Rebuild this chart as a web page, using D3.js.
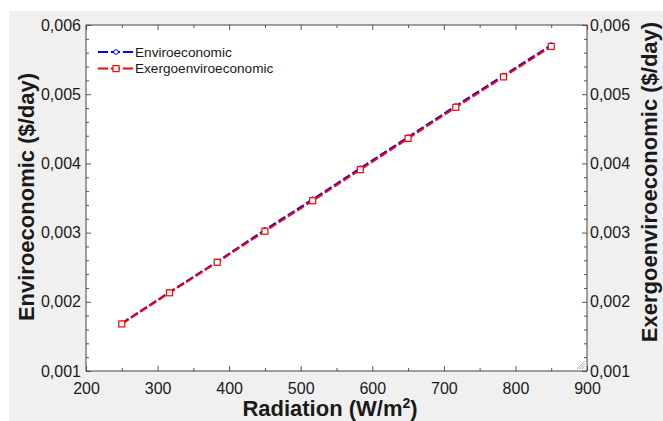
<!DOCTYPE html>
<html>
<head>
<meta charset="utf-8">
<script src="https://cdn.jsdelivr.net/npm/d3@7"></script>
<style>
  body { margin: 0; background: #fff; }
  svg text { font-family: "Liberation Sans", Arial, sans-serif; fill: #1a1a1a; }
</style>
</head>
<body>
<script>
// data
var radiation = [250, 316.7, 383.3, 450, 516.7, 583.3, 650, 716.7, 783.3, 850];
var enviro = [0.00169, 0.00214, 0.00258, 0.00304, 0.00348, 0.00393, 0.00438, 0.00483, 0.00527, 0.00571];
var exergo = [0.00168, 0.00213, 0.00257, 0.00302, 0.00346, 0.00391, 0.00436, 0.00481, 0.00525, 0.00569];
var xTicks = [200, 300, 400, 500, 600, 700, 800, 900];
var yTicks = [0.001, 0.002, 0.003, 0.004, 0.005, 0.006];
var seriesNames = ["Enviroeconomic", "Exergoenviroeconomic"];
var seriesColors = ["#0000ff", "#ff0000"];

var W = 663, H = 421;
var margin = {top: 25, right: 76, bottom: 50, left: 86},
    width = W - margin.left - margin.right,
    height = H - margin.top - margin.bottom;

var svg = d3.select("body").append("svg")
    .attr("width", W)
    .attr("height", H);

// grey panel behind the plot
svg.append("rect")
    .attr("x", 9).attr("y", 11)
    .attr("width", W - 9).attr("height", H - 11)
    .attr("fill", "#f0f0f0");

var g = svg.append("g")
    .attr("transform", "translate(" + margin.left + "," + margin.top + ")");

g.append("rect")
    .attr("width", width).attr("height", height)
    .attr("fill", "#fff");

var x = d3.scaleLinear().domain([200, 900]).range([0, width]);
var y = d3.scaleLinear().domain([0.001, 0.006]).range([height, 0]);

var comma = function(d) { return d3.format(".3f")(d).replace(".", ","); };
var xMinor = d3.range(250, 900, 100);
var yMinor = d3.range(0, 26).map(function(i) { return 0.001 + i * 0.0002; })
    .filter(function(v, i) { return i % 5 != 0; });

function styleAxis(sel) {
  sel.select(".domain").remove();
  sel.selectAll("line").attr("stroke", "#555");
  sel.selectAll("text").style("font-size", "16px").attr("fill", "#1a1a1a");
}

// bottom
g.append("g").attr("transform", "translate(0," + height + ")")
    .call(d3.axisBottom(x).tickValues(xTicks).tickSize(-5).tickPadding(12).tickFormat(d3.format("d")))
    .call(styleAxis);
g.append("g").attr("transform", "translate(0," + height + ")")
    .call(d3.axisBottom(x).tickValues(xMinor).tickSize(-3).tickFormat(""))
    .call(styleAxis);
// top
g.append("g")
    .call(d3.axisTop(x).tickValues(xTicks).tickSize(-5).tickFormat(""))
    .call(styleAxis);
g.append("g")
    .call(d3.axisTop(x).tickValues(xMinor).tickSize(-3).tickFormat(""))
    .call(styleAxis);
// left
g.append("g")
    .call(d3.axisLeft(y).tickValues(yTicks).tickSize(-5).tickPadding(5).tickFormat(comma))
    .call(styleAxis);
g.append("g")
    .call(d3.axisLeft(y).tickValues(yMinor).tickSize(-3).tickFormat(""))
    .call(styleAxis);
// right
g.append("g").attr("transform", "translate(" + width + ",0)")
    .call(d3.axisRight(y).tickValues(yTicks).tickSize(-5).tickPadding(3).tickFormat(comma))
    .call(styleAxis);
g.append("g").attr("transform", "translate(" + width + ",0)")
    .call(d3.axisRight(y).tickValues(yMinor).tickSize(-3).tickFormat(""))
    .call(styleAxis);

// frame
g.append("rect")
    .attr("width", width).attr("height", height)
    .attr("fill", "none").attr("stroke", "#444").attr("stroke-width", 1);

// resize grip
for (var i = 0; i < 4; i++) {
  g.append("line")
    .attr("x1", width - 2).attr("y1", height - 10 + i * 2.5)
    .attr("x2", width - 10 + i * 2.5).attr("y2", height - 2)
    .attr("stroke", "#aaa").attr("stroke-width", 1);
}

// series
var line = d3.line()
    .x(function(d) { return x(d[0]); })
    .y(function(d) { return y(d[1]); });

var blueData = radiation.map(function(r, i) { return [r, enviro[i]]; });
var redData = radiation.map(function(r, i) { return [r, exergo[i]]; });

g.append("path").datum(blueData)
    .attr("d", line).attr("fill", "none")
    .attr("stroke", seriesColors[0]).attr("stroke-width", 2)
    .attr("stroke-dasharray", "8,3");
g.selectAll(".circ").data(blueData).enter().append("circle")
    .attr("cx", function(d) { return x(d[0]); })
    .attr("cy", function(d) { return y(d[1]); })
    .attr("r", 2.3).attr("fill", "#fff")
    .attr("stroke", seriesColors[0]).attr("stroke-width", 1);

g.append("path").datum(redData)
    .attr("d", line).attr("fill", "none")
    .attr("stroke", seriesColors[1]).attr("stroke-width", 2)
    .attr("stroke-dasharray", "8,3");
g.selectAll(".sq").data(redData).enter().append("rect")
    .attr("x", function(d) { return x(d[0]) - 3; })
    .attr("y", function(d) { return y(d[1]) - 3; })
    .attr("width", 6).attr("height", 6)
    .attr("fill", "#fff")
    .attr("stroke", seriesColors[1]).attr("stroke-width", 1.2);

// legend
var leg = g.append("g").attr("transform", "translate(12,27)");
seriesNames.forEach(function(name, i) {
  var ly = i * 16.6;
  leg.append("line")
      .attr("x1", 0).attr("x2", 36).attr("y1", ly).attr("y2", ly)
      .attr("stroke", seriesColors[i]).attr("stroke-width", 2)
      .attr("stroke-dasharray", "10,3,3,3,3,3,10");
  if (i == 0) {
    leg.append("circle").attr("cx", 18).attr("cy", ly).attr("r", 2.3)
        .attr("fill", "#fff").attr("stroke", seriesColors[i]).attr("stroke-width", 1);
  } else {
    leg.append("rect").attr("x", 15).attr("y", ly - 3).attr("width", 6).attr("height", 6)
        .attr("fill", "#fff").attr("stroke", seriesColors[i]).attr("stroke-width", 1.2);
  }
  leg.append("text")
      .attr("x", 37).attr("y", ly).attr("dy", "0.35em")
      .style("font-size", "13.6px")
      .text(name);
});

// axis titles
svg.append("text")
    .attr("x", 330).attr("y", 416)
    .attr("text-anchor", "middle")
    .style("font-size", "22px").style("font-weight", "bold")
    .html("Radiation (W/m<tspan dy='-8' style='font-size:14px'>2</tspan><tspan dy='8'>)</tspan>");

svg.append("text")
    .attr("transform", "translate(34,197) rotate(-90)")
    .attr("text-anchor", "middle")
    .style("font-size", "22px").style("font-weight", "bold")
    .text("Enviroeconomic ($/day)");

svg.append("text")
    .attr("transform", "translate(657,182) rotate(-90)")
    .attr("text-anchor", "middle")
    .style("font-size", "22px").style("font-weight", "bold")
    .text("Exergoenviroeconomic ($/day)");
</script>
</body>
</html>
